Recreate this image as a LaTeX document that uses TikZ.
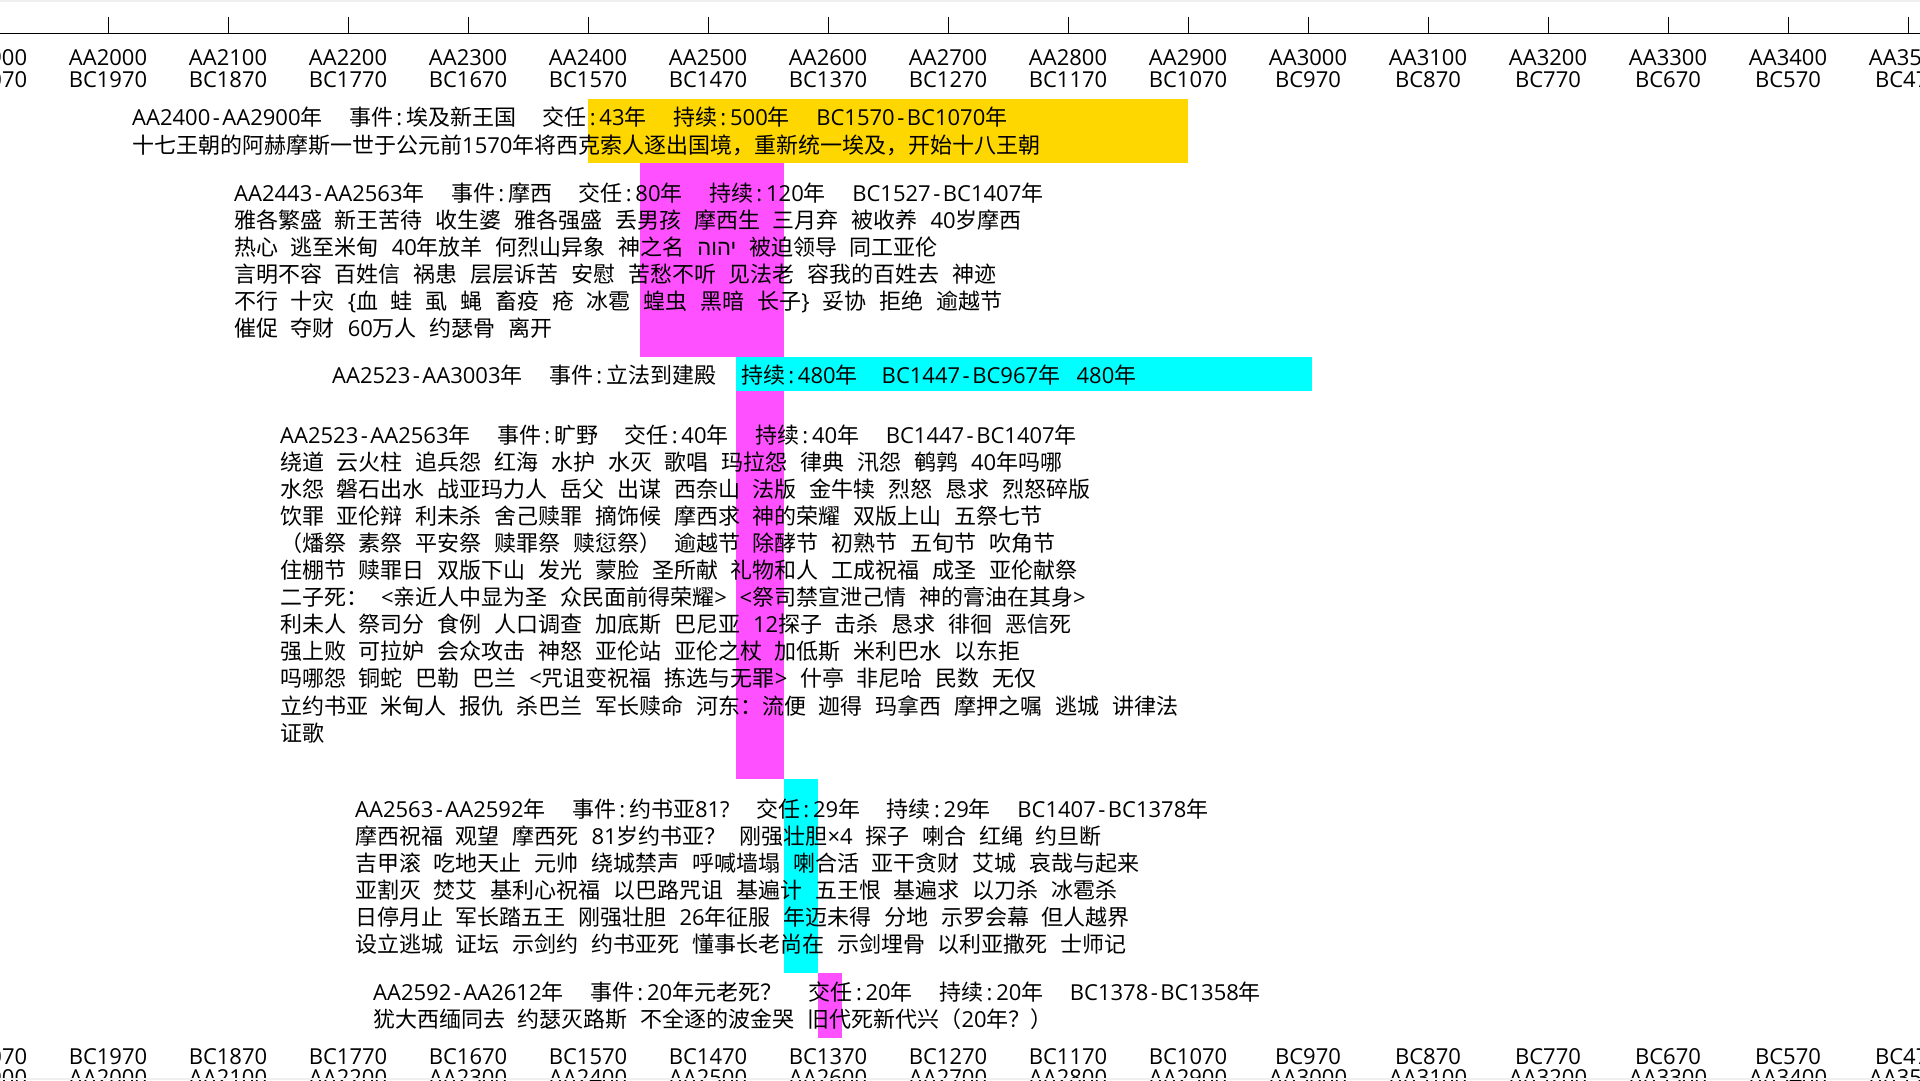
\documentclass[tikz,border=0pt]{standalone}
\usepackage{fontspec}
\setmainfont{Open Sans}
\newfontfamily\latf{Open Sans}
\newfontfamily\cjkf{Noto Sans CJK SC}
\newfontfamily\hebf[Script=Hebrew]{Liberation Sans}
\TeXXeTstate=1
\newXeTeXintercharclass\cjkcls
\newcount\cjkcnt
\def\setcjkrange#1#2{\cjkcnt=#1\relax\loop\XeTeXcharclass\cjkcnt=\cjkcls\relax\ifnum\cjkcnt<#2\relax\advance\cjkcnt by 1\relax\repeat}
\setcjkrange{"3000}{"303F}
\setcjkrange{"4E00}{"9FFF}
\setcjkrange{"FF00}{"FFEF}
\XeTeXinterchartoks 0 \cjkcls = {\cjkf}
\XeTeXinterchartoks 4095 \cjkcls = {\cjkf}
\XeTeXinterchartoks \cjkcls 0 = {\latf}
\XeTeXinterchartoks \cjkcls 4095 = {\latf}
\XeTeXinterchartokenstate=1
\newcommand{\hg}{\hspace{26.5pt}}
\newcommand{\cln}{\kern3.3pt:\kern3.8pt}
\newcommand{\hy}{\kern2.5pt-\kern2.5pt}
\definecolor{hlyellow}{RGB}{255,215,0}
\definecolor{hlmag}{RGB}{255,80,255}
\definecolor{hlcyan}{RGB}{0,255,255}
\definecolor{edgegray}{RGB}{240,240,240}
\tikzset{
  txt/.style={anchor=base west, inner sep=0pt, font={\fontsize{22}{27}\selectfont\spaceskip=12.8pt\relax}},
  lbl/.style={anchor=base, inner sep=0pt, font={\fontsize{22}{27}\selectfont}},
  hl/.style={fill=#1, draw=none},
  axis/.style={line width=1pt, black}
}
\begin{document}
\begin{tikzpicture}[x=1pt,y=-1pt]
\useasboundingbox (0,0) rectangle (1920,1080);
\clip (0,0) rectangle (1920,1080);
\fill[white] (0,0) rectangle (1920,1080);
% highlight bars
\fill[hl=hlyellow] (588,99) rectangle (1188,163);
\fill[hl=hlmag] (639.6,163) rectangle (783.6,357);
\fill[hl=hlcyan] (735.6,357) rectangle (1311.6,391);
\fill[hl=hlmag] (735.6,391) rectangle (783.6,779);
\fill[hl=hlcyan] (783.6,779) rectangle (818.4,973);
\fill[hl=hlmag] (818.4,973) rectangle (842.4,1038);
% axis
\draw[axis] (0,33) -- (1920,33);
\foreach \a in {1900,2000,...,3500}{
  \pgfmathsetmacro{\xx}{108+(\a-2000)*1.2}
  \pgfmathtruncatemacro{\bc}{3970-\a}
  \draw[axis] (\xx,17) -- (\xx,33);
  \node[lbl] (ta\a) at (\xx,65) {AA\a};
  \node[lbl] (tb\a) at (\xx,87) {BC\bc};
  \node[lbl] (bb\a) at (\xx,1064) {BC\bc};
  \node[lbl] (ba\a) at (\xx,1085) {AA\a};
}
% block 1
\node[txt] (b1l1) at (132,125.5) {AA2400\hy AA2900年\hg 事件\cln 埃及新王国\hg 交任\cln 43年\hg 持续\cln 500年\hg BC1570\hy BC1070年};
\node[txt] (b1l2) at (132,153) {十七王朝的阿赫摩斯一世于公元前1570年将西克索人逐出国境，重新统一埃及，开始十八王朝};
% block 2
\node[txt] (b2l1) at (234,201) {AA2443\hy AA2563年\hg 事件\cln 摩西\hg 交任\cln 80年\hg 持续\cln 120年\hg BC1527\hy BC1407年};
\node[txt] (b2l2) at (234,228) {雅各繁盛 新王苦待 收生婆 雅各强盛 丢男孩 摩西生 三月弃 被收养 40岁摩西};
\node[txt] (b2l3) at (234,255) {热心 逃至米甸 40年放羊 何烈山异象 神之名 {\hebf\beginR יהוה\endR} 被迫领导 同工亚伦};
\node[txt] (b2l4) at (234,282.5) {言明不容 百姓信 祸患 层层诉苦 安慰 苦愁不听 见法老 容我的百姓去 神迹};
\node[txt] (b2l5) at (234,309.5) {不行 十灾 \{血 蛙 虱 蝇 畜疫 疮 冰雹 蝗虫 黑暗 长子\} 妥协 拒绝 逾越节};
\node[txt] (b2l6) at (234,336) {催促 夺财 60万人 约瑟骨 离开};
% block 3
\node[txt] (b3l1) at (332,383) {AA2523\hy AA3003年\hg 事件\cln 立法到建殿\hspace{25pt}持续\cln 480年\hspace{24pt}BC1447\hy BC967年\hspace{16.5pt}480年};
% block 4
\node[txt] (b4l1) at (280,443) {AA2523\hy AA2563年\hg 事件\cln 旷野\hg 交任\cln 40年\hg 持续\cln 40年\hg BC1447\hy BC1407年};
\node[txt] (b4l2) at (280,470.1) {绕道 云火柱 追兵怨 红海 水护 水灭 歌唱 玛拉怨 律典 汛怨 鹌鹑 40年吗哪};
\node[txt] (b4l3) at (280,497.2) {水怨 磐石出水 战亚玛力人 岳父 出谋 西奈山 法版 金牛犊 烈怒 恳求 烈怒碎版};
\node[txt] (b4l4) at (280,524.3) {饮罪 亚伦辩 利未杀 舍己赎罪 摘饰候 摩西求 神的荣耀 双版上山 五祭七节};
\node[txt] (b4l5) at (280,551.4) {（燔祭 素祭 平安祭 赎罪祭 赎愆祭） 逾越节 除酵节 初熟节 五旬节 吹角节};
\node[txt] (b4l6) at (280,578.5) {住棚节 赎罪日 双版下山 发光 蒙脸 圣所献 礼物和人 工成祝福 成圣 亚伦献祭};
\node[txt] (b4l7) at (280,605.6) {二子死： <亲近人中显为圣 众民面前得荣耀> <祭司禁宣泄己情 神的膏油在其身>};
\node[txt] (b4l8) at (280,632.7) {利未人 祭司分 食例 人口调查 加底斯 巴尼亚 12探子 击杀 恳求 徘徊 恶信死};
\node[txt] (b4l9) at (280,659.8) {强上败 可拉妒 会众攻击 神怒 亚伦站 亚伦之杖 加低斯 米利巴水 以东拒};
\node[txt] (b4l10) at (280,686.9) {吗哪怨 铜蛇 巴勒 巴兰 <咒诅变祝福 拣选与无罪> 什亭 非尼哈 民数 无仅};
\node[txt] (b4l11) at (280,714) {立约书亚 米甸人 报仇 杀巴兰 军长赎命 河东：流便 迦得 玛拿西 摩押之嘱 逃城 讲律法};
\node[txt] (b4l12) at (280,741) {证歌};
% block 5
\node[txt] (b5l1) at (355,817) {AA2563\hy AA2592年\hg 事件\cln 约书亚81?\hg 交任\cln 29年\hg 持续\cln 29年\hg BC1407\hy BC1378年};
\node[txt] (b5l2) at (355,844) {摩西祝福 观望 摩西死 81岁约书亚？ 刚强壮胆×4 探子 喇合 红绳 约旦断};
\node[txt] (b5l3) at (355,871) {吉甲滚 吃地天止 元帅 绕城禁声 呼喊墙塌 喇合活 亚干贪财 艾城 哀哉与起来};
\node[txt] (b5l4) at (355,898) {亚割灭 焚艾 基利心祝福 以巴路咒诅 基遍计 五王恨 基遍求 以刀杀 冰雹杀};
\node[txt] (b5l5) at (355,925) {日停月止 军长踏五王 刚强壮胆 26年征服 年迈未得 分地 示罗会幕 但人越界};
\node[txt] (b5l6) at (355,952) {设立逃城 证坛 示剑约 约书亚死 懂事长老尚在 示剑埋骨 以利亚撒死 士师记};
% block 6
\node[txt] (b6l1) at (373,1000) {AA2592\hy AA2612年\hg 事件\cln 20年元老死？\hg 交任\cln 20年\hg 持续\cln 20年\hg BC1378\hy BC1358年};
\node[txt] (b6l2) at (373,1027) {犹大西缅同去 约瑟灭路斯 不全逐的波金哭 旧代死新代兴（20年？）};
% screen edges
\fill[edgegray] (0,0) rectangle (1920,2);
\fill[edgegray] (0,1077.5) rectangle (1920,1080);
\end{tikzpicture}
\end{document}
